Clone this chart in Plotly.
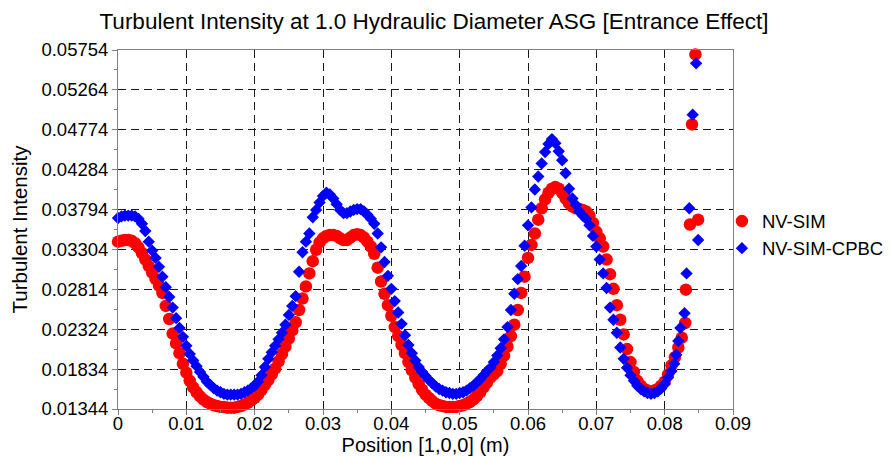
import plotly.graph_objects as go

# ---------------- data ----------------
POSITION = [
    0.0000, 0.0005, 0.0010, 0.0015, 0.0020, 0.0025, 0.0030, 0.0035, 0.0040, 0.0045,
    0.0050, 0.0055, 0.0060, 0.0065, 0.0070, 0.0075, 0.0080, 0.0085, 0.0090, 0.0095,
    0.0100, 0.0105, 0.0110, 0.0115, 0.0120, 0.0125, 0.0130, 0.0135, 0.0140, 0.0145,
    0.0150, 0.0155, 0.0160, 0.0165, 0.0170, 0.0175, 0.0180, 0.0185, 0.0190, 0.0195,
    0.0200, 0.0205, 0.0210, 0.0215, 0.0220, 0.0225, 0.0230, 0.0235, 0.0240, 0.0245,
    0.0250, 0.0255, 0.0260, 0.0265, 0.0270, 0.0275, 0.0280, 0.0285, 0.0290, 0.0295,
    0.0300, 0.0305, 0.0310, 0.0315, 0.0320, 0.0325, 0.0330, 0.0335, 0.0340, 0.0345,
    0.0350, 0.0355, 0.0360, 0.0365, 0.0370, 0.0375, 0.0380, 0.0385, 0.0390, 0.0395,
    0.0400, 0.0405, 0.0410, 0.0415, 0.0420, 0.0425, 0.0430, 0.0435, 0.0440, 0.0445,
    0.0450, 0.0455, 0.0460, 0.0465, 0.0470, 0.0475, 0.0480, 0.0485, 0.0490, 0.0495,
    0.0500, 0.0505, 0.0510, 0.0515, 0.0520, 0.0525, 0.0530, 0.0535, 0.0540, 0.0545,
    0.0550, 0.0555, 0.0560, 0.0565, 0.0570, 0.0575, 0.0580, 0.0585, 0.0590, 0.0595,
    0.0600, 0.0605, 0.0610, 0.0615, 0.0620, 0.0625, 0.0630, 0.0635, 0.0640, 0.0645,
    0.0650, 0.0655, 0.0660, 0.0665, 0.0670, 0.0675, 0.0680, 0.0685, 0.0690, 0.0695,
    0.0700, 0.0705, 0.0710, 0.0715, 0.0720, 0.0725, 0.0730, 0.0735, 0.0740, 0.0745,
    0.0750, 0.0755, 0.0760, 0.0765, 0.0770, 0.0775, 0.0780, 0.0785, 0.0790, 0.0795,
    0.0800, 0.0805, 0.0810, 0.0815, 0.0820, 0.0825, 0.0830,
]

NV_SIM = [
    0.0340, 0.0341, 0.0342, 0.0342, 0.0341, 0.0338, 0.0333, 0.0326, 0.0318, 0.0310,
    0.0302, 0.0294, 0.0286, 0.0277, 0.0261, 0.0245, 0.0227, 0.0215, 0.0203, 0.0190,
    0.0179, 0.0169, 0.0161, 0.0155, 0.0150, 0.0146, 0.0143, 0.0141, 0.0139, 0.0138,
    0.0137, 0.0137, 0.0136, 0.0136, 0.0136, 0.0137, 0.0138, 0.0140, 0.0142, 0.0145,
    0.0148, 0.0152, 0.0158, 0.0164, 0.0170, 0.0177, 0.0184, 0.0193, 0.0202, 0.0211,
    0.0221, 0.0231, 0.0241, 0.0256, 0.0270, 0.0285, 0.0301, 0.0316, 0.0330, 0.0339,
    0.0344, 0.0347, 0.0348, 0.0348, 0.0347, 0.0344, 0.0342, 0.0342, 0.0345, 0.0348,
    0.0349, 0.0348, 0.0345, 0.0340, 0.0334, 0.0325, 0.0308, 0.0291, 0.0276, 0.0262,
    0.0249, 0.0235, 0.0224, 0.0213, 0.0203, 0.0192, 0.0182, 0.0173, 0.0165, 0.0158,
    0.0152, 0.0148, 0.0144, 0.0141, 0.0139, 0.0138, 0.0137, 0.0137, 0.0137, 0.0137,
    0.0138, 0.0139, 0.0141, 0.0143, 0.0146, 0.0150, 0.0155, 0.0161, 0.0167, 0.0173,
    0.0177, 0.0181, 0.0190, 0.0200, 0.0211, 0.0224, 0.0238, 0.0256, 0.0277, 0.0297,
    0.0320, 0.0336, 0.0350, 0.0367, 0.0381, 0.0392, 0.0400, 0.0405, 0.0407, 0.0405,
    0.0400, 0.0393, 0.0387, 0.0383, 0.0381, 0.0380, 0.0379, 0.0377, 0.0372, 0.0363,
    0.0352, 0.0344, 0.0334, 0.0318, 0.0300, 0.0282, 0.0262, 0.0244, 0.0226, 0.0208,
    0.0192, 0.0180, 0.0169, 0.0163, 0.0159, 0.0157, 0.0156, 0.0157, 0.0159, 0.0163,
    0.0168, 0.0177, 0.0188, 0.0198, 0.0210, 0.0222, 0.0240,
]
NV_SIM_TAIL_X = [0.0831, 0.0837, 0.0849, 0.0840, 0.0845]
NV_SIM_TAIL_Y = [0.0281, 0.0361, 0.0367, 0.0484, 0.0570]

NV_SIM_CPBC = [
    0.0369, 0.0371, 0.0372, 0.0372, 0.0372, 0.0371, 0.0368, 0.0362, 0.0353, 0.0340,
    0.0329, 0.0320, 0.0309, 0.0297, 0.0284, 0.0272, 0.0259, 0.0246, 0.0234, 0.0223,
    0.0212, 0.0202, 0.0194, 0.0187, 0.0180, 0.0174, 0.0168, 0.0164, 0.0160, 0.0157,
    0.0155, 0.0153, 0.0152, 0.0152, 0.0152, 0.0152, 0.0153, 0.0155, 0.0157, 0.0160,
    0.0163, 0.0168, 0.0176, 0.0186, 0.0196, 0.0204, 0.0212, 0.0220, 0.0228, 0.0238,
    0.0250, 0.0261, 0.0273, 0.0303, 0.0327, 0.0340, 0.0350, 0.0370, 0.0379, 0.0388,
    0.0396, 0.0400, 0.0398, 0.0393, 0.0386, 0.0379, 0.0375, 0.0375, 0.0377, 0.0379,
    0.0380, 0.0380, 0.0377, 0.0373, 0.0368, 0.0362, 0.0350, 0.0333, 0.0315, 0.0298,
    0.0282, 0.0267, 0.0253, 0.0239, 0.0225, 0.0213, 0.0203, 0.0194, 0.0186, 0.0180,
    0.0175, 0.0170, 0.0166, 0.0162, 0.0159, 0.0157, 0.0155, 0.0154, 0.0153, 0.0153,
    0.0154, 0.0155, 0.0157, 0.0160, 0.0163, 0.0167, 0.0171, 0.0176, 0.0181, 0.0185,
    0.0192, 0.0200, 0.0209, 0.0220, 0.0235, 0.0256, 0.0276, 0.0294, 0.0310, 0.0335,
    0.0360, 0.0382, 0.0404, 0.0420, 0.0436, 0.0450, 0.0460, 0.0466, 0.0461, 0.0451,
    0.0440, 0.0424, 0.0405, 0.0393, 0.0385, 0.0377, 0.0372, 0.0368, 0.0360, 0.0347,
    0.0334, 0.0318, 0.0301, 0.0283, 0.0259, 0.0244, 0.0228, 0.0210, 0.0196, 0.0185,
    0.0176, 0.0169, 0.0163, 0.0159, 0.0156, 0.0154, 0.0153, 0.0154, 0.0156, 0.0160,
    0.0165, 0.0173, 0.0181,
]
NV_SIM_CPBC_TAIL_X = [0.0814, 0.0817, 0.0820, 0.0823, 0.0829, 0.0832, 0.0836, 0.0849, 0.0841, 0.0846]
NV_SIM_CPBC_TAIL_Y = [0.0190, 0.0201, 0.0218, 0.0234, 0.0252, 0.0301, 0.0381, 0.0342, 0.0496, 0.0559]

X_TICKS = [0, 0.01, 0.02, 0.03, 0.04, 0.05, 0.06, 0.07, 0.08, 0.09]
X_TICK_LABELS = ["0", "0.01", "0.02", "0.03", "0.04", "0.05", "0.06", "0.07", "0.08", "0.09"]
Y_TICKS = [0.01344, 0.01834, 0.02324, 0.02814, 0.03304, 0.03794, 0.04284, 0.04774, 0.05264, 0.05754]
Y_TICK_LABELS = ["0.01344", "0.01834", "0.02324", "0.02814", "0.03304",
                 "0.03794", "0.04284", "0.04774", "0.05264", "0.05754"]
Y_MINOR = [0.01589, 0.02079, 0.02569, 0.03059, 0.03549, 0.04039, 0.04529, 0.05019, 0.05509]

# ---------------- figure ----------------
FONT = "Liberation Sans, Arial, sans-serif"

red_x = POSITION[:len(NV_SIM)] + NV_SIM_TAIL_X
red_y = NV_SIM + NV_SIM_TAIL_Y
blue_x = POSITION[:len(NV_SIM_CPBC)] + NV_SIM_CPBC_TAIL_X
blue_y = NV_SIM_CPBC + NV_SIM_CPBC_TAIL_Y

fig = go.Figure()
fig.add_trace(go.Scatter(
    x=red_x, y=red_y, mode="markers", name="NV-SIM", cliponaxis=False,
    marker=dict(symbol="circle", size=12.5, color="#ff0000", line=dict(width=0)),
))
fig.add_trace(go.Scatter(
    x=blue_x, y=blue_y, mode="markers", name="NV-SIM-CPBC", cliponaxis=False,
    marker=dict(symbol="diamond", size=9.5, color="#0000ff", line=dict(width=0)),
))

axis_common = dict(
    showgrid=True, gridcolor="#1a1a1a", gridwidth=1, griddash="8px,5px",
    showline=True, linecolor="#808080", linewidth=1, mirror=True,
    ticks="outside", ticklen=5, tickcolor="#808080", tickwidth=1,
    zeroline=False, tickfont=dict(family=FONT, size=18.5, color="black"),
)

fig.update_layout(
    width=890, height=456,
    margin=dict(l=118, r=157, t=50, b=47, autoexpand=False),
    paper_bgcolor="white", plot_bgcolor="white",
    font=dict(family=FONT, color="black"),
    title=dict(
        text="Turbulent Intensity at 1.0 Hydraulic Diameter ASG [Entrance Effect]",
        x=434 / 890, xref="container", xanchor="center",
        y=1 - 21 / 456, yref="container", yanchor="middle",
        font=dict(family=FONT, size=22.5, color="black"),
    ),
    xaxis=dict(
        range=[0, 0.09], tickmode="array", tickvals=X_TICKS, ticktext=X_TICK_LABELS,
        ticklabelstandoff=-7,
        title=dict(text="Position [1,0,0] (m)", font=dict(family=FONT, size=20), standoff=4),
        minor=dict(ticks="outside", ticklen=3, dtick=0.005, tickcolor="#808080", showgrid=False),
        **axis_common,
    ),
    yaxis=dict(
        range=[0.01344, 0.05754], tickmode="array", tickvals=Y_TICKS, ticktext=Y_TICK_LABELS,
        title=dict(text="Turbulent Intensity", font=dict(family=FONT, size=20.5), standoff=8),
        minor=dict(ticks="outside", ticklen=3, tickvals=Y_MINOR, tickcolor="#808080", showgrid=False),
        **axis_common,
    ),
    legend=dict(
        x=0.982, xanchor="left", y=0.575, yanchor="top",
        bgcolor="rgba(0,0,0,0)", borderwidth=0,
        font=dict(family=FONT, size=18.5, color="black"),
        tracegroupgap=0, itemwidth=30,
    ),
)

fig.write_html("out.html")
